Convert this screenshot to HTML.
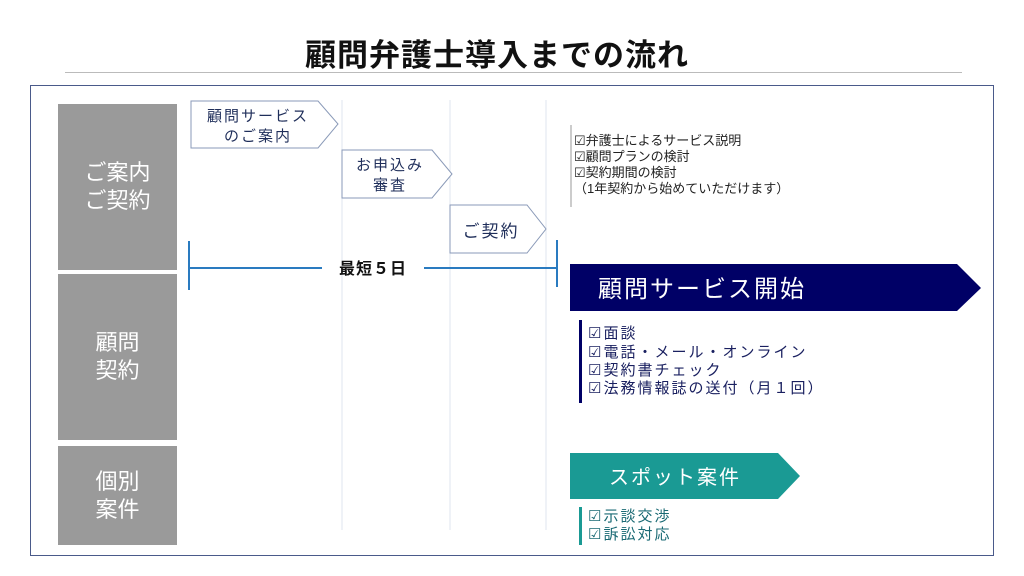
<!DOCTYPE html>
<html><head><meta charset="utf-8"><style>
body{margin:0;width:1024px;height:576px;background:#fff;position:relative;overflow:hidden;font-family:"Liberation Sans","Noto Sans CJK JP",sans-serif}
.a{position:absolute;white-space:nowrap}
.g{position:absolute;left:58px;width:119px;background:#9a9a9a;color:#fff;font-size:22px;line-height:28px;display:flex;align-items:center;justify-content:center;text-align:center}
</style></head><body>
<div class="a" style="left:-15px;width:1024px;top:30px;text-align:center;font-size:31px;font-weight:bold;color:#111;letter-spacing:1px">顧問弁護士導入までの流れ</div>
<div class="a" style="left:65px;top:72px;width:897px;height:1px;background:#bbb"></div>
<div class="a" style="left:30px;top:85px;width:962px;height:469px;border:1px solid #4a5a8a"></div>
<div class="g" style="top:104px;height:166px">ご案内<br>ご契約</div>
<div class="g" style="top:274px;height:166px">顧問<br>契約</div>
<div class="g" style="top:446px;height:99px">個別<br>案件</div>
<svg class="a" style="left:0;top:0" width="1024" height="576">
<g stroke="#dfe5ef" stroke-width="1"><line x1="342" y1="100" x2="342" y2="530"/><line x1="450" y1="100" x2="450" y2="530"/><line x1="546" y1="100" x2="546" y2="530"/></g>
<g fill="#fff" stroke="#8a9ab8" stroke-width="1">
<polygon points="191,101 318,101 338,124 318,148 191,148"/>
<polygon points="342,150 432,150 452,174 432,198 342,198"/>
<polygon points="450,205 527,205 546,229 527,253 450,253"/>
</g>
<g fill="#1f2e5a" font-size="15" text-anchor="middle" letter-spacing="2">
<text x="258" y="121">顧問サービス</text><text x="258" y="141">のご案内</text>
<text x="390" y="170">お申込み</text><text x="390" y="190">審査</text>
<text x="491" y="237" font-size="17">ご契約</text>
</g>
<g stroke="#2a7bc0" stroke-width="2"><line x1="189" y1="241" x2="189" y2="290"/><line x1="557" y1="240" x2="557" y2="287"/><line x1="189" y1="268" x2="322" y2="268"/><line x1="424" y1="268" x2="557" y2="268"/></g>
<text x="373" y="274" font-size="16" font-weight="bold" text-anchor="middle" fill="#111" letter-spacing="1">最短５日</text>
<line x1="571" y1="125" x2="571" y2="207" stroke="#bbb" stroke-width="1.5"/>
<g fill="#222" font-size="13"><text x="574" y="145">☑弁護士によるサービス説明</text><text x="574" y="161">☑顧問プランの検討</text><text x="574" y="177">☑契約期間の検討</text><text x="574" y="193">（1年契約から始めていただけます）</text></g>
<polygon points="570,264 957,264 981,288 957,311 570,311" fill="#000066"/>
<text x="598" y="297" font-size="24" fill="#fff" letter-spacing="2">顧問サービス開始</text>
<rect x="579" y="320" width="3" height="83" fill="#000066"/>
<g fill="#1a2060" font-size="15" letter-spacing="2"><text x="588" y="338">☑面談</text><text x="588" y="357">☑電話・メール・オンライン</text><text x="588" y="375">☑契約書チェック</text><text x="588" y="393">☑法務情報誌の送付（月１回）</text></g>
<polygon points="570,453 778,453 800,476 778,499 570,499" fill="#1a9a94"/>
<text x="675" y="484" font-size="20" fill="#fff" text-anchor="middle" letter-spacing="2">スポット案件</text>
<rect x="579" y="507" width="3" height="38" fill="#1a9a94"/>
<g fill="#1a6a74" font-size="15" letter-spacing="2"><text x="588" y="521">☑示談交渉</text><text x="588" y="539">☑訴訟対応</text></g>
</svg>
</body></html>
